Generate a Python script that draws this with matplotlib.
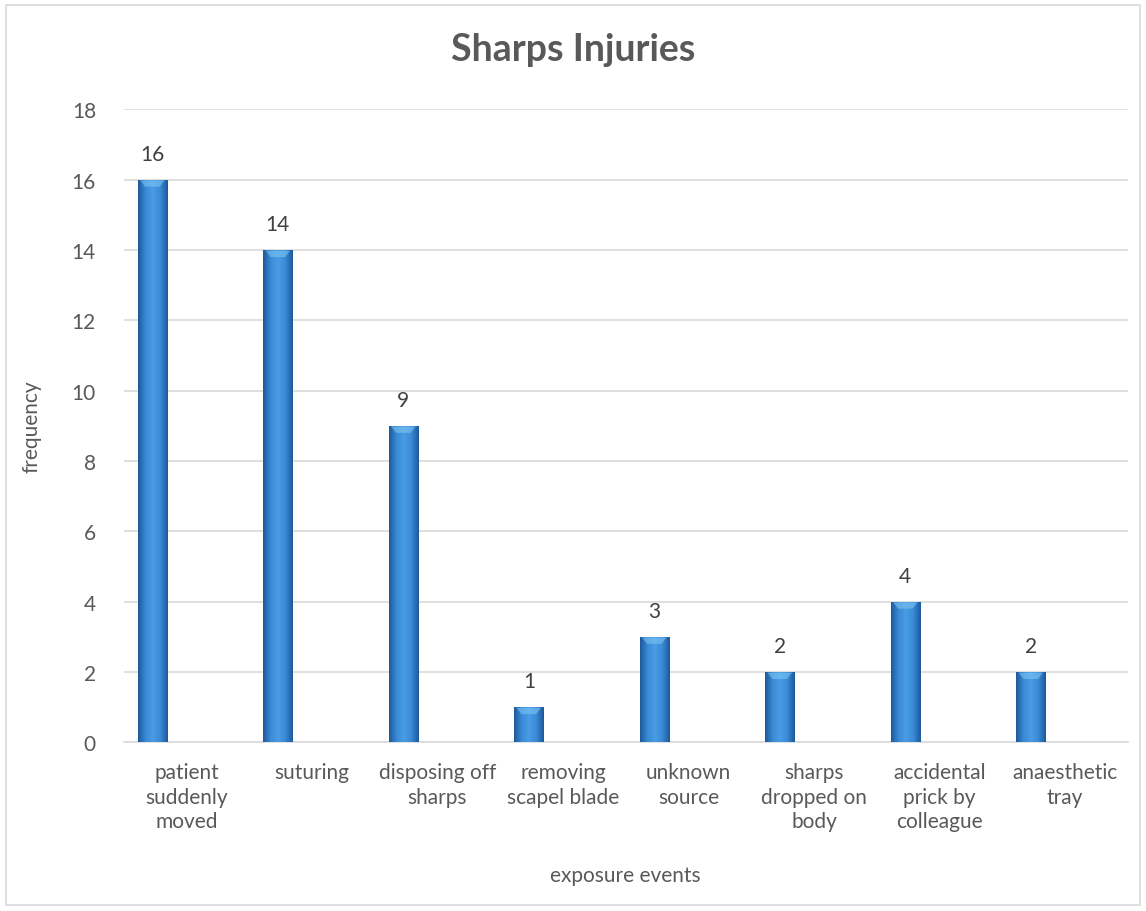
import numpy as np
import matplotlib.pyplot as plt
from matplotlib.colors import LinearSegmentedColormap

categories = ['patient\nsuddenly\nmoved', 'suturing', 'disposing off\nsharps',
              'removing\nscapel blade', 'unknown\nsource', 'sharps\ndropped on\nbody',
              'accidental\nprick by\ncolleague', 'anaesthetic\ntray']
frequency = [16, 14, 9, 1, 3, 2, 4, 2]

txt = '#595959'
plt.rcParams['font.family'] = ['Lato', 'DejaVu Sans']

fig = plt.figure(figsize=(11.46, 9.12), dpi=100)
ax = fig.add_axes([0.108, 0.185, 0.876, 0.694])

x = np.arange(len(categories))
bars = ax.bar(x - 0.272, frequency, width=0.232, color='#3a8ad6', zorder=2)

# cylinder-like horizontal gradient on each bar
cmap = LinearSegmentedColormap.from_list('cyl', ['#1d5a9a', '#3a8ad6', '#4a9ce6', '#3a8ad6', '#1d5a9a'])
grad = np.linspace(0, 1, 64).reshape(1, -1)
for b in bars:
    x0, w, h = b.get_x(), b.get_width(), b.get_height()
    im = ax.imshow(grad, cmap=cmap, aspect='auto', extent=(x0, x0 + w, 0, h), zorder=3)
    im.set_clip_path(b)
    # light bevel at the top
    ax.fill([x0 + w * 0.08, x0 + w * 0.92, x0 + w * 0.75, x0 + w * 0.25],
            [h - 0.02, h - 0.02, h - 0.2, h - 0.2],
            color='#7cc4f2', alpha=0.6, zorder=4, linewidth=0)
    ax.text(x0 + w / 2, h + 0.45, str(int(h)), ha='center', va='bottom',
            fontsize=15, color='#404040')

ax.set_xlim(-0.5, len(categories) - 0.5)
ax.set_ylim(0, 18)
ax.set_yticks(range(0, 19, 2))
ax.set_xticks(x)
ax.set_xticklabels(categories, fontsize=15, color=txt, linespacing=1.3)
ax.tick_params(axis='y', labelsize=15, labelcolor=txt, length=0, pad=20)
ax.tick_params(axis='x', length=0, pad=14)
ax.grid(axis='y', color='#d9d9d9', linewidth=1.2, zorder=0)
ax.set_axisbelow(True)
for s in ['top', 'right', 'left']:
    ax.spines[s].set_visible(False)
ax.spines['bottom'].set_color('#d9d9d9')
ax.spines['bottom'].set_linewidth(1.2)

ax.set_ylabel('frequency', fontsize=15, color=txt, labelpad=22)
ax.set_xlabel('exposure events', fontsize=15, color=txt, labelpad=24)
fig.text(0.5, 0.945, 'Sharps Injuries', ha='center', va='center',
         fontsize=27, fontweight='bold', color=txt)

fig.patches.append(plt.Rectangle((0.005, 0.007), 0.99, 0.986, transform=fig.transFigure,
                                 fill=False, edgecolor='#d9d9d9', linewidth=1.2))

fig.savefig('out.png', dpi=100)
